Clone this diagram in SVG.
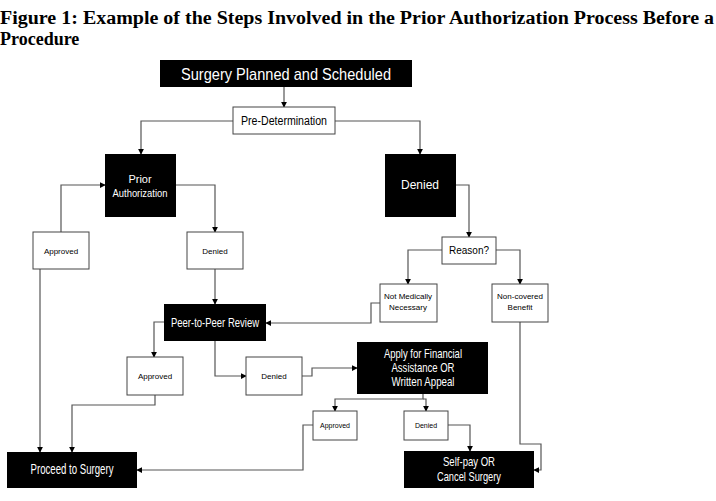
<svg xmlns="http://www.w3.org/2000/svg" width="716" height="501" viewBox="0 0 716 501">
<defs><marker id="a" viewBox="0 0 8 8" refX="7" refY="4" markerWidth="5" markerHeight="5" orient="auto"><path d="M0,0L8,4L0,8z" fill="#000"/></marker></defs>
<style>
.t{font-family:"Liberation Serif","Times New Roman",serif;font-weight:bold;font-size:18px}
.b{fill:#000}.w{fill:#fff;stroke:#444;stroke-width:1}
.tw{font-family:"Liberation Sans",Arial,sans-serif;fill:#fff;text-anchor:middle}
.tb{font-family:"Liberation Sans",Arial,sans-serif;fill:#000;text-anchor:middle}
#c path{fill:none;stroke:#555;stroke-width:1.2;marker-end:url(#a)}
</style>
<rect width="716" height="501" fill="#fff"/>
<text class="t" x="0" y="24" textLength="714" lengthAdjust="spacingAndGlyphs">Figure 1: Example of the Steps Involved in the Prior Authorization Process Before a</text>
<text class="t" x="0" y="45">Procedure</text>
<g id="c">
<path d="M284,87V107"/>
<path d="M233,121H141V154"/>
<path d="M335,121H420V154"/>
<path d="M61,232V185H105"/>
<path d="M176,185H215V232"/>
<path d="M215,269V304"/>
<path d="M456,185H469V237"/>
<path d="M442,250H408V284"/>
<path d="M496,250H520V284"/>
<path d="M380,303H371V323H266"/>
<path d="M164,322H154V357"/>
<path d="M155,395V405H72V452"/>
<path d="M40,269V452"/>
<path d="M215,341V376H246"/>
<path d="M302,376H312V368H357"/>
<path d="M423,394V399H335V411"/>
<path d="M423,399H426V411"/>
<path d="M313,425H303V470H137"/>
<path d="M448,425H470V451"/>
<path d="M520,322V444H541V470H534"/>
</g>
<g id="n1"><rect class="b" x="160" y="60" width="252" height="27"/><text class="tw" x="286" y="80" font-size="17" textLength="210" lengthAdjust="spacingAndGlyphs">Surgery Planned and Scheduled</text></g>
<g id="n2"><rect class="w" x="233" y="107" width="102" height="27"/><text class="tb" x="284" y="125" font-size="12" textLength="86" lengthAdjust="spacingAndGlyphs">Pre-Determination</text></g>
<g id="n3"><rect class="b" x="105" y="154" width="71" height="63"/><text class="tw" x="140" y="183" font-size="11">Prior</text><text class="tw" x="140" y="197" font-size="11" textLength="55" lengthAdjust="spacingAndGlyphs">Authorization</text></g>
<g id="n4"><rect class="b" x="385" y="154" width="71" height="63"/><text class="tw" x="420" y="189" font-size="12">Denied</text></g>
<g id="n5"><rect class="w" x="33" y="232" width="56" height="37"/><text class="tb" x="61" y="254" font-size="8">Approved</text></g>
<g id="n6"><rect class="w" x="187" y="232" width="56" height="37"/><text class="tb" x="215" y="254" font-size="8">Denied</text></g>
<g id="n7"><rect class="w" x="442" y="237" width="54" height="27"/><text class="tb" x="469" y="254" font-size="10">Reason?</text></g>
<g id="n8"><rect class="w" x="380" y="284" width="57" height="38"/><text class="tb" x="408" y="299" font-size="8">Not Medically</text><text class="tb" x="408" y="310" font-size="8">Necessary</text></g>
<g id="n9"><rect class="w" x="492" y="284" width="56" height="38"/><text class="tb" x="520" y="299" font-size="8">Non-covered</text><text class="tb" x="520" y="310" font-size="8">Benefit</text></g>
<g id="n10"><rect class="b" x="164" y="304" width="102" height="37"/><text class="tw" x="215" y="327" font-size="13" textLength="88" lengthAdjust="spacingAndGlyphs">Peer-to-Peer Review</text></g>
<g id="n11"><rect class="w" x="127" y="357" width="56" height="38"/><text class="tb" x="155" y="379" font-size="8">Approved</text></g>
<g id="n12"><rect class="w" x="246" y="357" width="56" height="38"/><text class="tb" x="274" y="379" font-size="8">Denied</text></g>
<g id="n13"><rect class="b" x="357" y="342" width="131" height="52"/><text class="tw" x="423" y="358" font-size="13" textLength="78" lengthAdjust="spacingAndGlyphs">Apply for Financial</text><text class="tw" x="423" y="372" font-size="13" textLength="63" lengthAdjust="spacingAndGlyphs">Assistance OR</text><text class="tw" x="423" y="386" font-size="13" textLength="63" lengthAdjust="spacingAndGlyphs">Written Appeal</text></g>
<g id="n14"><rect class="w" x="313" y="411" width="44" height="29"/><text class="tb" x="335" y="428" font-size="7">Approved</text></g>
<g id="n15"><rect class="w" x="404" y="411" width="44" height="29"/><text class="tb" x="426" y="428" font-size="7">Denied</text></g>
<g id="n16"><rect class="b" x="7" y="452" width="130" height="36"/><text class="tw" x="72" y="474" font-size="14" textLength="83" lengthAdjust="spacingAndGlyphs">Proceed to Surgery</text></g>
<g id="n17"><rect class="b" x="404" y="451" width="130" height="37"/><text class="tw" x="469" y="466" font-size="13" textLength="52" lengthAdjust="spacingAndGlyphs">Self-pay OR</text><text class="tw" x="469" y="481" font-size="13" textLength="64" lengthAdjust="spacingAndGlyphs">Cancel Surgery</text></g>
</svg>
